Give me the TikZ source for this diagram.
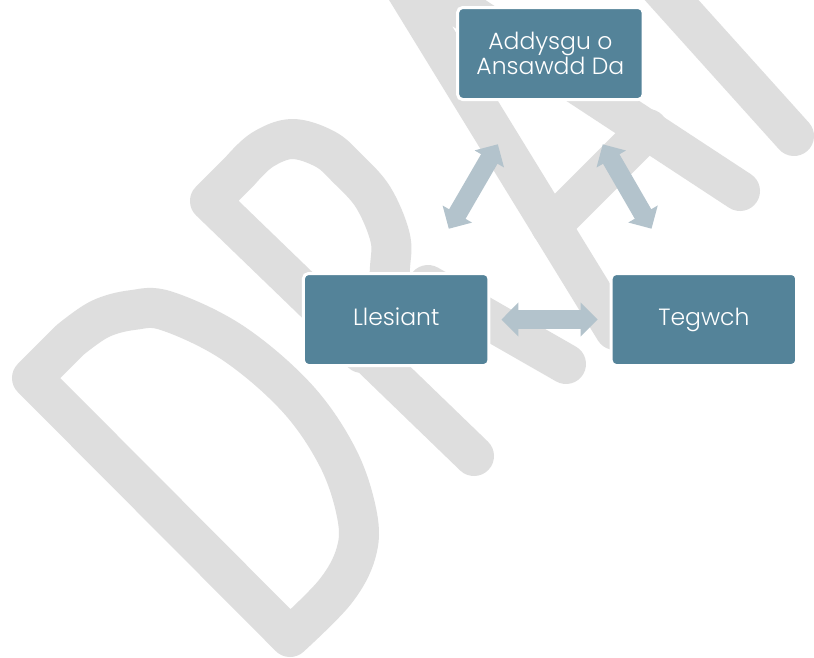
\documentclass[tikz,border=0pt]{standalone}
\usepackage{fontspec}
\IfFontExistsTF{Poppins Light}{\setmainfont{Poppins Light}}{\setmainfont{Poppins}}
\usetikzlibrary{arrows.meta}
\definecolor{wmgray}{RGB}{222,222,222}
\definecolor{boxblue}{RGB}{84,131,153}
\definecolor{arrowblue}{RGB}{179,195,204}
\begin{document}
\begin{tikzpicture}[x=1pt,y=-1pt,
  wm/.style={draw=wmgray, line width=40pt, line cap=round, line join=round},
  box/.style={draw=white, line width=3pt, fill=boxblue, rounded corners=5pt,
    minimum width=185.5pt, minimum height=92pt, text=white,
    font=\fontsize{23.5}{25}\selectfont, align=center, inner sep=0pt},
  oneline/.style={text height=1.3em, text depth=0.2em},
  dblarrow/.style={draw=arrowblue, line width=19pt,
    {Triangle[width=33pt,length=17pt]}-{Triangle[width=33pt,length=17pt]}}
]
\useasboundingbox (0,0) rectangle (814,657);
\fill[white] (0,0) rectangle (814,657);
\begin{scope}
\clip (0,0) rectangle (814,657);
% watermark "DRAFT"
% D
\draw[wm] (290,637) -- (32,378) -- plot[smooth,tension=0.6] coordinates
  {(70,340) (100,319) (133,310) (167,311) (233,343) (297,398) (338,458) (357,515) (356,553) (335,592) (290,637)};
% R
\draw[wm] (474,456) -- (210,201) -- plot[smooth,tension=0.6] coordinates
  {(240,171) (262,150) (292,139) (325,149) (347,168) (373,197) (390,237) (390,267) (385,310) (362,353)};
\draw[wm] (428,285) -- (566,364);
% A
\draw[wm] (615,330) -- (388,-40) -- (740,191);
\draw[wm] (551,226) -- (648,129);
% F
\draw[wm] (560,-124) -- (794,136);
\end{scope}
% boxes
\node[box] (top) at (550.4,53.5) {Addysgu o\\Ansawdd Da};
\node[box, oneline] (lle) at (396.2,319.5) {Llesiant};
\node[box, oneline] (teg) at (703.9,319.5) {Tegwch};
% arrows
\draw[dblarrow, shorten <=50pt, shorten >=50pt] (top) -- (lle);
\draw[dblarrow, shorten <=50pt, shorten >=50pt] (top) -- (teg);
\draw[dblarrow, shorten <=11pt, shorten >=12pt] (lle) -- (teg);
\end{tikzpicture}
\end{document}
